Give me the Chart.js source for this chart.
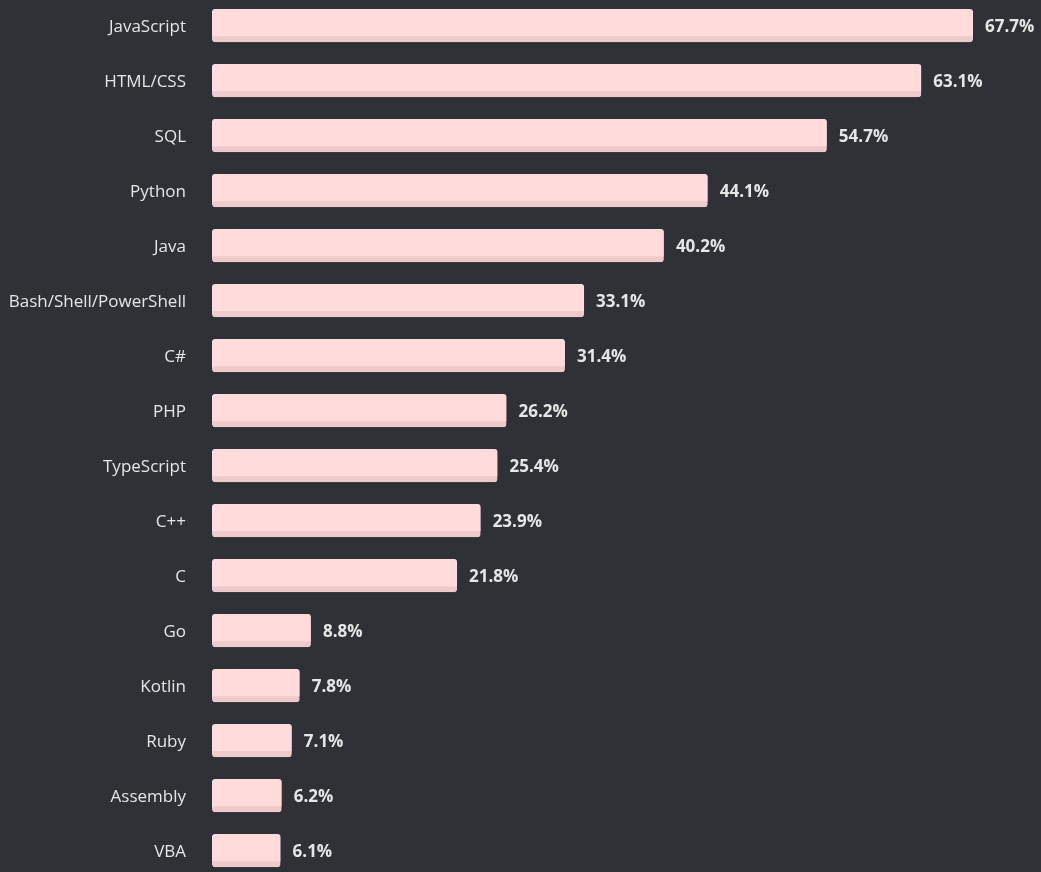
<!DOCTYPE html>
<html>
<head>
<meta charset="utf-8">
<script src="https://cdn.jsdelivr.net/npm/chart.js@4/dist/chart.umd.min.js"></script>
<style>
  html, body { margin: 0; padding: 0; background: #2e3136; overflow: hidden; }
  #wrap { width: 1041px; height: 872px; overflow: hidden; position: relative; }
  #langChart { position: absolute; left: 0; top: -2px; }
</style>
</head>
<body>
<div id="wrap"><canvas id="langChart" width="1041" height="880"></canvas></div>
<script>
const languages = [
  'JavaScript', 'HTML/CSS', 'SQL', 'Python', 'Java', 'Bash/Shell/PowerShell',
  'C#', 'PHP', 'TypeScript', 'C++', 'C', 'Go', 'Kotlin', 'Ruby', 'Assembly', 'VBA',
];
const shares = [67.7, 63.1, 54.7, 44.1, 40.2, 33.1, 31.4, 26.2, 25.4, 23.9, 21.8, 8.8, 7.8, 7.1, 6.2, 6.1];

const textColor = '#e6e6e6';

// value labels to the right of each bar
const valueLabels = {
  id: 'valueLabels',
  afterDatasetsDraw(chart) {
    const ctx = chart.ctx;
    const meta = chart.getDatasetMeta(0);
    ctx.save();
    ctx.font = 'bold 17px "Open Sans"';
    ctx.fillStyle = textColor;
    ctx.textBaseline = 'middle';
    ctx.textAlign = 'left';
    meta.data.forEach((bar, i) => {
      ctx.fillText(shares[i].toFixed(1) + '%', bar.x + 12, bar.y + 2);
    });
    ctx.restore();
  },
};

const ctx = document.getElementById('langChart');
// eslint-disable-next-line no-undef
const langChart = new Chart(ctx, {
  type: 'bar',
  data: {
    labels: languages,
    datasets: [
      {
        data: shares,
        backgroundColor: '#ffdbdb',
        borderColor: '#efcaca',
        borderWidth: { top: 0, left: 0, right: 0, bottom: 6 },
        borderSkipped: false,
        borderRadius: 3,
        barThickness: 33,
      },
    ],
  },
  options: {
    indexAxis: 'y',
    responsive: false,
    animation: false,
    layout: { padding: { top: 0, bottom: 0, right: 68, left: 0 } },
    plugins: {
      legend: { display: false },
      tooltip: { enabled: false },
    },
    scales: {
      x: {
        min: 0,
        max: 67.7,
        display: false,
      },
      y: {
        grid: { display: false, drawTicks: false },
        border: { display: false },
        afterFit(scale) {
          scale.width = 212;
          scale.paddingTop = 0;
          scale.paddingBottom = 0;
        },
        ticks: {
          color: textColor,
          padding: 26,
          labelOffset: 2,
          font: { family: 'Open Sans', size: 17 },
        },
      },
    },
  },
  plugins: [valueLabels],
});
</script>
</body>
</html>
